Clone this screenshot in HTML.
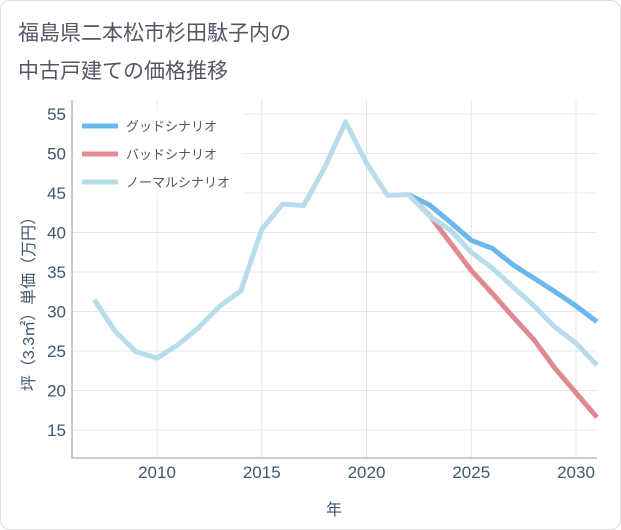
<!DOCTYPE html>
<html><head><meta charset="utf-8"><style>
body{margin:0;background:#fff;font-family:"Liberation Sans","Noto Sans CJK JP",sans-serif}
#wrap{position:relative;width:619px;height:528px;border:1px solid #ddd;border-radius:10px;background:#fff;overflow:hidden}
</style></head><body>
<div id="wrap">
<svg id="svg" width="621" height="530" style="position:absolute;left:-1px;top:-1px"></svg>
</div>
<script>
const years=[2007,2008,2009,2010,2011,2012,2013,2014,2015,2016,2017,2018,2019,2020,2021,2022,2023,2024,2025,2026,2027,2028,2029,2030,2031];
const normalHist=[31.5,27.5,24.9,24.1,25.8,28,30.7,32.6,40.4,43.6,43.4,48.2,54,48.8,44.7,44.8];
const futYears=[2022,2023,2024,2025,2026,2027,2028,2029,2030,2031];
const good=[44.8,43.5,41.3,39,38,35.9,34.2,32.5,30.7,28.7];
const bad=[44.8,42.2,38.7,35.2,32.3,29.3,26.4,22.8,19.7,16.6];
const normalFut=[44.8,42.1,40.3,37.5,35.5,33.1,30.7,28,26,23.2];
const yTicks=[15,20,25,30,35,40,45,50,55];
const xTicks=[2010,2015,2020,2025,2030];
const NS="http://www.w3.org/2000/svg",svg=document.getElementById('svg');
const X=y=>157+(y-2010)*20.95, Y=v=>114+(55-v)*7.9;
function el(t,a,txt){const e=document.createElementNS(NS,t);for(const k in a)e.setAttribute(k,a[k]);if(txt!=null)e.textContent=txt;svg.appendChild(e);return e;}
let r=el('rect',{x:72,y:100,width:525,height:358,fill:'#fff'});

yTicks.forEach(v=>{let l=el('line',{x1:72,x2:597,y1:Y(v),y2:Y(v),stroke:'#dfe8ee'});

let t=el('text',{x:66,y:Y(v)+6,'text-anchor':'end','font-size':17,fill:'#3f5670'},v);
});
xTicks.forEach(v=>{let l=el('line',{x1:X(v),x2:X(v),y1:100,y2:458,stroke:'#dfe8ee'});

let t=el('text',{x:X(v),y:478,'text-anchor':'middle','font-size':17,fill:'#3f5670'},v);
});
let ax=el('polyline',{points:'72,100 72,458 597,458',fill:'none',stroke:'#999','stroke-width':1});

let lb=el('rect',{x:74,y:110,width:170,height:84,fill:'#fff'});

function line(xs,vs,c,name){let p=el('polyline',{points:xs.map((x,i)=>X(x)+','+Y(vs[i])).join(' '),fill:'none',stroke:c,'stroke-width':5,'stroke-linejoin':'round'});
}
line(futYears,good,'#6bb8ef','good-scenario-line');
line(futYears,bad,'#de8a90','bad-scenario-line');
line(futYears,normalFut,'#b9dcea','normal-scenario-future-line');
line(years.slice(0,normalHist.length),normalHist,'#b9dcea','normal-scenario-line');
const leg=[['グッドシナリオ','#6bb8ef'],['バッドシナリオ','#de8a90'],['ノーマルシナリオ','#b9dcea']];
leg.forEach((d,i)=>{let y=126+i*28;let l=el('line',{x1:82,x2:118,y1:y,y2:y,stroke:d[1],'stroke-width':5});

let t=el('text',{x:126,y:y+5,'font-size':13,fill:'#556'},d[0]);
});
let t1=el('text',{x:18,y:40,'font-size':21,fill:'#556'},'福島県二本松市杉田駄子内の');

let t2=el('text',{x:18,y:78,'font-size':21,fill:'#556'},'中古戸建ての価格推移');

let xt=el('text',{x:334,y:515,'text-anchor':'middle','font-size':16,fill:'#3f5670'},'年');

let yt=el('text',{x:0,y:0,'text-anchor':'middle','font-size':16,fill:'#3f5670',transform:'translate(34,300) rotate(-90)'},'坪（3.3㎡）単価（万円）');

</script>
</body></html>
